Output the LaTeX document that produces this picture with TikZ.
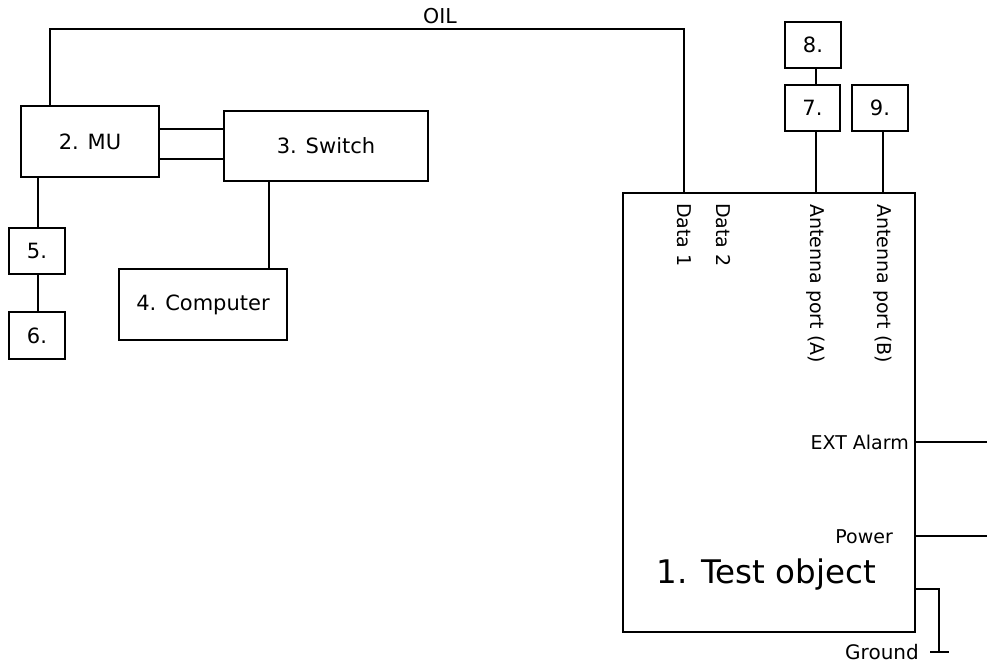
\documentclass[tikz,border=0pt]{standalone}
\usepackage{fontspec}
\setmainfont{DejaVu Sans}
\begin{document}
\begin{tikzpicture}[x=1pt,y=-1pt,
  line join=miter,
  box/.style={draw, rectangle, line width=2pt, inner sep=0pt, align=center,
              font=\fontsize{21}{24}\selectfont},
  port/.style={inner sep=0pt, font=\fontsize{19}{22}\selectfont},
  vport/.style={port, rotate=-90, anchor=west},
  wire/.style={line width=2.2pt}]
\useasboundingbox (0,0) rectangle (987,664);

% equipment boxes
\node[box, minimum width=138pt, minimum height=71pt] (mu)   at (90,141.5) {2. MU};
\node[box, minimum width=204pt, minimum height=70pt] (sw)   at (326,146)  {3. Switch};
\node[box, minimum width=168pt, minimum height=71pt] (comp) at (203,304.5) {4. Computer};
\node[box, minimum width=56pt, minimum height=46pt]  (n5)   at (37,251)   {5.};
\node[box, minimum width=56pt, minimum height=47pt]  (n6)   at (37,335.5) {6.};
\node[box, minimum width=56pt, minimum height=46pt]  (n8)   at (813,45)   {8.};
\node[box, minimum width=55pt, minimum height=46pt]  (n7)   at (812.5,108) {7.};
\node[box, minimum width=56pt, minimum height=46pt]  (n9)   at (880,108)  {9.};
\node[draw, rectangle, line width=2.6pt, inner sep=0pt,
      minimum width=292pt, minimum height=439pt] (test) at (769,412.5) {};

% labels inside the test object
\node[inner sep=0pt, anchor=base, font=\fontsize{32.5}{36}\selectfont] (tname) at (766.5,583) {1. Test object};
\node[vport] (d1)  at (684,203) {Data 1};
\node[vport] (d2)  at (723,203) {Data 2};
\node[vport] (antA) at (816,204) {Antenna port (A)};
\node[vport] (antB) at (883,204) {Antenna port (B)};
\node[port, anchor=east] (ext) at (909,442) {EXT Alarm};
\node[port, anchor=east] (pwr) at (893,537) {Power};
\node[port, anchor=east, font=\fontsize{20}{22}\selectfont] (gnd) at (919,652) {Ground};

% OIL link from the MU to Data 1
\coordinate (oilL) at (50,29);
\coordinate (oilR) at (684,29);
\draw[wire] (mu.north -| oilL) -- (oilL) -- (oilR) -- (test.north -| oilR);
\node[inner sep=0pt, anchor=base, font=\fontsize{20.5}{24}\selectfont] (oil) at (440,23) {OIL};

% MU to switch (two links)
\coordinate (l1) at (0,129);
\coordinate (l2) at (0,159);
\draw[wire] (mu.east |- l1) -- (sw.west |- l1);
\draw[wire] (mu.east |- l2) -- (sw.west |- l2);

% switch to computer
\coordinate (sc) at (269,0);
\draw[wire] (sw.south -| sc) -- (comp.north -| sc);

% MU chain
\coordinate (mc) at (38,0);
\draw[wire] (mu.south -| mc) -- (n5.north -| mc);
\draw[wire] (n5.south -| mc) -- (n6.north -| mc);

% antennas
\coordinate (ac) at (816,0);
\coordinate (bc) at (883,0);
\draw[wire] (n8.south -| ac) -- (n7.north -| ac);
\draw[wire] (n7.south -| ac) -- (test.north -| ac);
\draw[wire] (n9.south -| bc) -- (test.north -| bc);

% external alarm and power leads
\coordinate (extEnd) at (987,442);
\coordinate (pwrEnd) at (987,536);
\draw[wire] (test.east |- extEnd) -- (extEnd);
\draw[wire] (test.east |- pwrEnd) -- (pwrEnd);

% ground lead
\coordinate (gA) at (939,589);
\coordinate (gB) at (939,652);
\coordinate (gL) at (930,652);
\coordinate (gR) at (949,652);
\draw[wire] (test.east |- gA) -- (gA) -- (gB);
\draw[wire] (gL) -- (gR);
\end{tikzpicture}
\end{document}
